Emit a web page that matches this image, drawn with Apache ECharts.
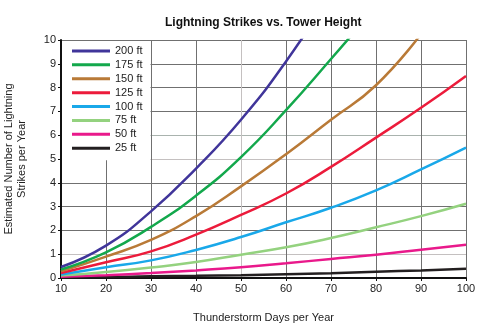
<!DOCTYPE html>
<html>
<head>
<meta charset="utf-8">
<script src="https://cdn.jsdelivr.net/npm/echarts@6/dist/echarts.min.js"></script>
<style>html,body{margin:0;padding:0;background:#fff;}#c{width:480px;height:326px;}</style>
</head>
<body>
<div id="c"></div>
<script>
const days = [10, 20, 30, 40, 50, 60, 70, 80, 90, 100];
const seriesNames = ['200 ft', '175 ft', '150 ft', '125 ft', '100 ft', '75 ft', '50 ft', '25 ft'];
const ft200 = [0.46, 1.36, 2.8, 4.6, 6.65, 9.1, 11.95];
const ft175 = [0.36, 1.08, 2.15, 3.46, 5.08, 7.05, 9.2, 11.4];
const ft150 = [0.28, 0.9, 1.6, 2.6, 3.85, 5.2, 6.65, 8.1, 10.25];
const ft125 = [0.21, 0.66, 1.12, 1.82, 2.65, 3.55, 4.67, 5.9, 7.15, 8.49];
const ft100 = [0.15, 0.45, 0.74, 1.18, 1.72, 2.34, 2.95, 3.68, 4.56, 5.48];
const ft75 = [0.1, 0.25, 0.44, 0.67, 0.98, 1.29, 1.68, 2.13, 2.6, 3.12];
const ft50 = [0.05, 0.12, 0.21, 0.32, 0.45, 0.62, 0.8, 0.98, 1.19, 1.4];
const ft25 = [0.02, 0.04, 0.07, 0.09, 0.12, 0.16, 0.2, 0.26, 0.32, 0.39];
const yTicks = [0, 1, 2, 3, 4, 5, 6, 7, 8, 9, 10];
const xTicks = days;

const allValues = [ft200, ft175, ft150, ft125, ft100, ft75, ft50, ft25];
const colors = ['#40359a', '#13a84c', '#b97a37', '#ec1b3b', '#19a8e9', '#94d27f', '#e9198b', '#231f20'];

const font = 'Liberation Sans, Arial, sans-serif';
const dark = '#707070';
const light = '#c4c0c0';

const chart = echarts.init(document.getElementById('c'), null, {renderer: 'canvas'});
chart.setOption({
  animation: false,
  backgroundColor: '#fff',
  title: {
    text: 'Lightning Strikes vs. Tower Height',
    left: 160, top: 12,
    textStyle: {fontFamily: font, fontSize: 12, fontWeight: 'bold', color: '#111'}
  },
  legend: {
    orient: 'vertical',
    left: 62, top: 41,
    padding: [3, 8, 5, 10],
    backgroundColor: '#fff',
    itemGap: 0,
    itemWidth: 38,
    itemHeight: 3,
    itemTextGap: 3,
    icon: 'rect',
    data: seriesNames,
    textStyle: {fontFamily: font, fontSize: 11, color: '#222', lineHeight: 13.9}
  },
  grid: {left: 61, right: 14, top: 40, bottom: 48, containLabel: false, outerBoundsMode: 'none'},
  xAxis: {
    type: 'value', min: 10, max: 100, interval: 10,
    name: 'Thunderstorm Days per Year',
    nameLocation: 'middle', nameGap: 34,
    nameTextStyle: {fontFamily: font, fontSize: 11, color: '#222'},
    axisLine: {show: true, onZero: false, lineStyle: {color: '#111', width: 2}},
    axisTick: {show: true, length: 3, lineStyle: {color: '#111'}},
    axisLabel: {fontFamily: font, fontSize: 11, color: '#222', margin: 5,
      formatter: v => xTicks.includes(v) ? String(v) : ''},
    splitLine: {show: true, lineStyle: {width: 1,
      color: [dark, dark, dark, dark, light, dark, dark, dark, dark, dark]}}
  },
  yAxis: {
    type: 'value', min: 0, max: 10, interval: 1,
    name: 'Estimated Number of Lightning\nStrikes per Year',
    nameLocation: 'middle', nameGap: 33,
    nameTextStyle: {fontFamily: font, fontSize: 11, color: '#222', lineHeight: 13},
    axisLine: {show: true, lineStyle: {color: '#111', width: 2}},
    axisTick: {show: true, length: 3, lineStyle: {color: '#111'}},
    axisLabel: {fontFamily: font, fontSize: 11, color: '#222', margin: 5,
      formatter: v => yTicks.includes(v) ? String(v) : ''},
    splitLine: {show: true, lineStyle: {width: 1,
      color: [dark, light, dark, dark, dark, light, '#a9b3ae', dark, dark, dark, dark]}}
  },
  series: allValues.map((vals, i) => ({
    name: seriesNames[i],
    type: 'line',
    smooth: true,
    showSymbol: false,
    symbol: 'none',
    clip: true,
    color: colors[i],
    lineStyle: {width: 2.5, color: colors[i]},
    z: 10 - i,
    data: vals.map((v, j) => [days[j], v])
  }))
});
</script>
</body>
</html>
